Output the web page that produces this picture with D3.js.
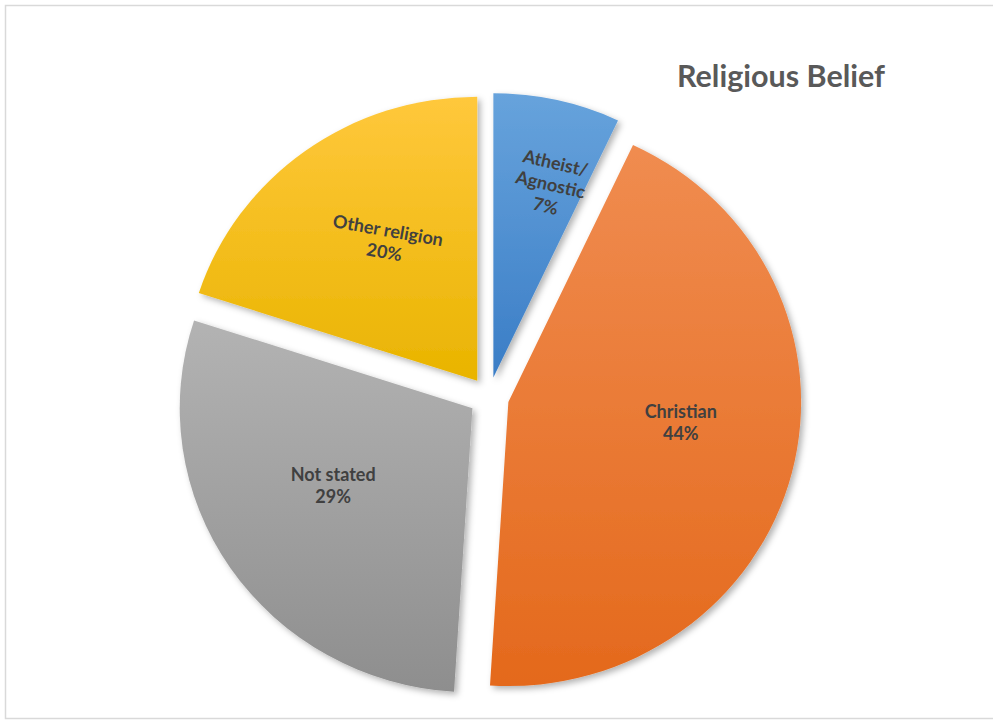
<!DOCTYPE html>
<html>
<head>
<meta charset="utf-8">
<script src="https://cdn.jsdelivr.net/npm/d3@7"></script>
<style>
  html, body { margin: 0; padding: 0; background: #ffffff; }
  svg { display: block; }
</style>
</head>
<body>
<svg id="chart" width="993" height="722"></svg>
<script>
// Religious belief shares (percent)
const categories = ["Atheist/\nAgnostic", "Christian", "Not stated", "Other religion"];
const values = [7, 44, 29, 20];
const title = "Religious Belief";

const W = 993, H = 722;
const svg = d3.select("#chart");

// chart frame
svg.append("rect")
  .attr("x", 5.5).attr("y", 5.5)
  .attr("width", W + 5).attr("height", 713)
  .attr("fill", "#ffffff")
  .attr("stroke", "#d9d9d9")
  .attr("stroke-width", 1.5);

svg.append("text")
  .attr("x", 781).attr("y", 87)
  .attr("text-anchor", "middle")
  .attr("font-family", "Lato, 'Open Sans', sans-serif")
  .attr("font-weight", 700)
  .attr("font-size", 30.5)
  .attr("fill", "#595959")
  .text(title);

// slice fills: lighter at the top, deeper toward the bottom
const fills = {
  "Atheist/\nAgnostic": ["#67a3dc", "#3a7dc6"],
  "Christian": ["#f08c50", "#e4691c"],
  "Not stated": ["#b3b3b3", "#8e8e8e"],
  "Other religion": ["#ffc83c", "#e9b400"]
};

// label placement inside each slice
const labelLayout = {
  "Atheist/\nAgnostic": { r: 0.70, shift: 3.9, rotate: 13 },
  "Christian": { r: 0.605, shift: -7.5, rotate: 0 },
  "Not stated": { r: 0.556, shift: 5, rotate: 0 },
  "Other religion": { r: 0.58, shift: 2.8, rotate: 10 }
};

const defs = svg.append("defs");
const shadow = defs.append("filter").attr("id", "shadow")
  .attr("x", "-10%").attr("y", "-10%").attr("width", "120%").attr("height", "120%");
shadow.append("feDropShadow")
  .attr("dx", 3).attr("dy", 3).attr("stdDeviation", 3)
  .attr("flood-color", "#000000").attr("flood-opacity", 0.3);

categories.forEach((c, i) => {
  const g = defs.append("linearGradient").attr("id", "grad" + i)
    .attr("x1", 0).attr("y1", 0).attr("x2", 0).attr("y2", 1);
  g.append("stop").attr("offset", "0%").attr("stop-color", fills[c][0]);
  g.append("stop").attr("offset", "100%").attr("stop-color", fills[c][1]);
});

const cx = 489, cy = 397, radius = 287, explode = 20;
// the plot area is slightly wider than tall
const sx = 1.02, sy = 0.99;

const pie = d3.pie().sort(null).value(d => d.value);
const arcs = pie(categories.map((c, i) => ({ name: c, value: values[i], idx: i })));
const arc = d3.arc().innerRadius(0).outerRadius(radius);

const root = svg.append("g").attr("transform", `translate(${cx},${cy})`);

const slices = root.selectAll("g.slice").data(arcs).join("g")
  .attr("class", "slice")
  .attr("transform", d => {
    const a = (d.startAngle + d.endAngle) / 2;
    return `translate(${explode * Math.sin(a)},${-explode * Math.cos(a)})`;
  });

slices.append("path")
  .attr("d", arc)
  .attr("transform", `scale(${sx},${sy})`)
  .attr("fill", d => `url(#grad${d.data.idx})`)
  .attr("filter", "url(#shadow)");

slices.each(function(d) {
  const L = labelLayout[d.data.name];
  const a = (d.startAngle + d.endAngle) / 2 + L.shift * Math.PI / 180;
  const x = radius * L.r * Math.sin(a);
  const y = -radius * L.r * Math.cos(a);
  const lines = d.data.name.split("\n").concat([d.data.value + "%"]);
  const t = d3.select(this).append("text")
    .attr("transform", `translate(${x},${y}) rotate(${L.rotate})`)
    .attr("text-anchor", "middle")
    .attr("font-family", "Lato, 'Open Sans', sans-serif")
    .attr("font-weight", 700)
    .attr("font-size", 18)
    .attr("fill", "#404040");
  const lh = 22;
  const y0 = -((lines.length - 1) * lh) / 2 + 6;
  lines.forEach((ln, k) => {
    t.append("tspan").attr("x", 0).attr("y", y0 + k * lh).text(ln);
  });
});
</script>
</body>
</html>
